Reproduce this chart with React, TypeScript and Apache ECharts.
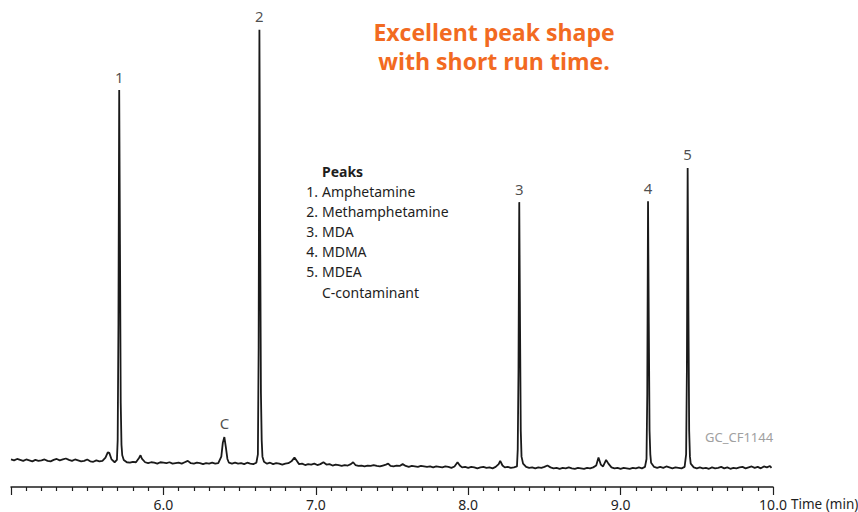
import React, { useEffect, useRef } from "react";
import * as echarts from "echarts";

// Chromatogram trace: [time (min), detector response (relative units)]
const trace: [number, number][] = [
  [5.00, 5.9], [5.02, 5.7], [5.04, 6.0], [5.06, 5.8], [5.08, 5.6], [5.10, 5.9],
  [5.12, 5.7], [5.14, 5.5], [5.16, 5.8], [5.18, 5.6], [5.20, 5.7], [5.22, 5.9],
  [5.24, 5.6], [5.26, 5.5], [5.28, 5.8], [5.30, 6.0], [5.32, 5.7], [5.34, 5.9],
  [5.36, 6.1], [5.38, 5.8], [5.40, 5.6], [5.42, 5.9], [5.44, 5.7], [5.46, 5.5],
  [5.48, 5.6], [5.50, 5.9], [5.52, 5.5], [5.54, 5.4], [5.56, 5.7], [5.58, 5.5],
  [5.60, 5.6], [5.62, 6.3], [5.635, 7.4], [5.645, 7.3], [5.66, 5.9], [5.68, 5.3],
  [5.695, 5.8], [5.70, 10], [5.705, 35], [5.71, 85], [5.715, 52], [5.72, 18],
  [5.725, 9], [5.73, 6.8], [5.74, 5.8], [5.76, 5.3], [5.78, 5.2], [5.80, 5.4],
  [5.82, 5.3], [5.84, 6.2], [5.85, 6.8], [5.86, 6.0], [5.88, 5.3], [5.90, 5.1],
  [5.92, 5.3], [5.94, 5.2], [5.96, 5.0], [5.98, 5.3], [6.00, 5.2], [6.02, 5.1],
  [6.04, 5.3], [6.06, 5.0], [6.08, 5.1], [6.10, 5.2], [6.12, 5.0], [6.14, 5.3],
  [6.16, 5.6], [6.18, 5.1], [6.20, 5.0], [6.22, 5.2], [6.24, 5.1], [6.26, 4.9],
  [6.28, 5.1], [6.30, 5.0], [6.32, 5.2], [6.34, 5.0], [6.36, 5.1], [6.38, 6.5],
  [6.39, 9.5], [6.40, 10.7], [6.41, 8.5], [6.42, 6.0], [6.43, 5.2], [6.45, 5.0],
  [6.47, 5.2], [6.49, 5.0], [6.51, 5.1], [6.53, 4.9], [6.55, 5.2], [6.57, 5.0],
  [6.59, 4.9], [6.61, 5.2], [6.62, 7], [6.625, 30], [6.63, 97.9], [6.635, 55],
  [6.64, 20], [6.645, 10], [6.65, 6.5], [6.66, 5.4], [6.68, 5.0], [6.70, 5.2],
  [6.72, 4.9], [6.74, 5.1], [6.76, 5.0], [6.78, 4.8], [6.80, 5.0], [6.82, 5.1],
  [6.84, 5.5], [6.86, 6.3], [6.875, 5.6], [6.89, 4.9], [6.91, 5.0], [6.93, 4.7],
  [6.95, 4.9], [6.97, 4.8], [6.99, 5.0], [7.01, 4.7], [7.03, 4.9], [7.05, 5.3],
  [7.07, 4.8], [7.09, 4.9], [7.11, 4.6], [7.13, 4.8], [7.15, 4.7], [7.17, 4.5],
  [7.19, 4.7], [7.21, 4.6], [7.23, 4.9], [7.245, 5.3], [7.26, 4.7], [7.28, 4.5],
  [7.30, 4.6], [7.32, 4.4], [7.34, 4.6], [7.36, 4.5], [7.38, 4.7], [7.40, 4.5],
  [7.42, 4.4], [7.44, 4.6], [7.46, 4.8], [7.475, 5.0], [7.49, 4.5], [7.51, 4.4],
  [7.53, 4.6], [7.55, 4.5], [7.57, 4.9], [7.59, 4.5], [7.61, 4.3], [7.63, 4.5],
  [7.65, 4.4], [7.67, 4.3], [7.69, 4.5], [7.71, 4.4], [7.73, 4.3], [7.75, 4.4],
  [7.77, 4.2], [7.79, 4.4], [7.81, 4.3], [7.83, 4.2], [7.85, 4.4], [7.87, 4.3],
  [7.89, 4.1], [7.91, 4.4], [7.93, 5.3], [7.945, 4.6], [7.96, 4.2], [7.98, 4.3],
  [8.00, 4.1], [8.02, 4.3], [8.04, 4.2], [8.06, 4.0], [8.08, 4.2], [8.10, 4.3],
  [8.12, 4.1], [8.14, 4.2], [8.16, 4.0], [8.18, 4.3], [8.20, 4.9], [8.21, 5.6],
  [8.225, 4.6], [8.24, 4.2], [8.26, 4.3], [8.28, 4.1], [8.30, 4.2], [8.32, 4.4],
  [8.325, 8], [8.33, 25], [8.335, 61.0], [8.34, 35], [8.345, 12], [8.35, 6.5],
  [8.36, 5.0], [8.38, 4.3], [8.40, 4.1], [8.42, 4.2], [8.44, 4.0], [8.46, 4.2],
  [8.48, 4.1], [8.50, 4.3], [8.52, 4.6], [8.54, 4.2], [8.56, 4.0], [8.58, 4.1],
  [8.60, 3.9], [8.62, 4.1], [8.64, 4.0], [8.66, 4.2], [8.68, 4.0], [8.70, 3.9],
  [8.72, 4.1], [8.74, 4.0], [8.76, 3.9], [8.78, 4.1], [8.80, 4.0], [8.82, 4.2],
  [8.84, 4.6], [8.855, 6.3], [8.87, 4.8], [8.885, 4.4], [8.905, 5.8], [8.92, 5.0],
  [8.94, 4.2], [8.96, 4.0], [8.98, 4.1], [9.00, 3.9], [9.02, 4.1], [9.04, 4.0],
  [9.06, 3.9], [9.08, 4.1], [9.10, 4.0], [9.12, 4.2], [9.14, 4.0], [9.16, 4.3],
  [9.17, 6], [9.175, 20], [9.18, 61.2], [9.185, 35], [9.19, 12], [9.195, 7],
  [9.20, 5.2], [9.22, 4.3], [9.24, 4.1], [9.26, 4.3], [9.28, 4.1], [9.30, 4.4],
  [9.32, 4.2], [9.34, 4.0], [9.36, 4.2], [9.38, 4.1], [9.40, 4.0], [9.42, 4.3],
  [9.43, 7], [9.435, 25], [9.44, 68.3], [9.445, 38], [9.45, 12], [9.455, 6.5],
  [9.46, 5.0], [9.48, 4.2], [9.50, 4.0], [9.52, 4.2], [9.54, 4.0], [9.56, 4.1],
  [9.58, 3.9], [9.60, 4.2], [9.62, 4.0], [9.64, 4.1], [9.66, 4.3], [9.68, 4.0],
  [9.70, 4.2], [9.72, 3.9], [9.74, 4.1], [9.76, 4.0], [9.78, 4.2], [9.80, 4.3],
  [9.82, 4.0], [9.84, 4.2], [9.86, 4.4], [9.88, 4.1], [9.90, 4.3], [9.92, 4.0],
  [9.94, 4.4], [9.96, 4.2], [9.98, 4.5], [9.99, 4.1],
];

// Peak annotations
const peakLabels = ["1", "C", "2", "3", "4", "5"];
const peakTimes = [5.71, 6.40, 6.63, 8.335, 9.18, 9.44];
const peakHeights = [85, 10.7, 97.9, 61.0, 61.2, 68.3];

// Legend box text
const legendTitle = "Peaks";
const legendNumbers = ["1.", "2.", "3.", "4.", "5.", ""];
const legendNames = ["Amphetamine", "Methamphetamine", "MDA", "MDMA", "MDEA", "C-contaminant"];

const headline = ["Excellent peak shape", "with short run time."];
const watermark = "GC_CF1144";
const xAxisName = "Time (min)";
const xMin = 5;
const xMax = 10;

const FONT = "'Noto Sans', sans-serif";
const INK = "#1e1e1e";

export default function App() {
  const ref = useRef<HTMLDivElement>(null);

  useEffect(() => {
    if (!ref.current) return;
    const chart = echarts.init(ref.current, null, { renderer: "svg" });

    const legendGraphics: any[] = [
      {
        type: "text",
        left: 322,
        top: 164,
        style: { text: legendTitle, font: `bold 14px ${FONT}`, fill: INK },
      },
    ];
    legendNames.forEach((name, i) => {
      const y = 184 + i * 20.2;
      if (legendNumbers[i]) {
        legendGraphics.push({
          type: "text",
          x: 318,
          y,
          style: { text: legendNumbers[i], font: `14px ${FONT}`, fill: INK, align: "right" },
        });
      }
      legendGraphics.push({
        type: "text",
        x: 322,
        y,
        style: { text: name, font: `14px ${FONT}`, fill: INK },
      });
    });

    chart.setOption({
      animation: false,
      backgroundColor: "#ffffff",
      grid: { left: 11, right: 85, top: 20, bottom: 25, outerBoundsMode: "none", containLabel: false },
      xAxis: {
        type: "value",
        min: xMin,
        max: xMax,
        interval: 1,
        axisLine: { show: true, lineStyle: { color: INK, width: 1.5 } },
        axisTick: { show: true, length: 8, inside: false, lineStyle: { color: INK, width: 1.2 } },
        minorTick: { show: true, splitNumber: 10, length: 4, lineStyle: { color: INK, width: 1.2 } },
        splitLine: { show: false },
        axisLabel: {
          margin: 10,
          color: INK,
          fontSize: 14,
          fontFamily: FONT,
          formatter: (v: number) => (v === xMin ? "" : v.toFixed(1)),
        },
      },
      yAxis: {
        type: "value",
        min: 0,
        max: 100,
        show: false,
        splitLine: { show: false },
      },
      graphic: [
        {
          type: "text",
          x: 494,
          y: 17,
          style: {
            text: headline.join("\n"),
            font: `bold 23px 'Open Sans', sans-serif`,
            fill: "#F26A21",
            align: "center",
            lineHeight: 29,
          },
        },
        ...legendGraphics,
        {
          type: "text",
          x: 705,
          y: 430,
          style: { text: watermark, font: `13px ${FONT}`, fill: "#a0a0a0" },
        },
        {
          type: "text",
          x: 791,
          y: 497,
          style: { text: xAxisName, font: `13.5px ${FONT}`, fill: INK },
        },
      ],
      series: [
        {
          type: "line",
          data: trace,
          showSymbol: false,
          symbol: "none",
          smooth: false,
          lineStyle: { color: "#1a1a1a", width: 1.8 },
          z: 2,
        },
        {
          type: "scatter",
          data: peakTimes.map((t, i) => [t, peakHeights[i]]),
          symbolSize: 0.1,
          itemStyle: { color: "transparent" },
          label: {
            show: true,
            position: "top",
            distance: 6,
            color: INK,
            fontSize: 15,
            fontFamily: FONT,
            formatter: (p: any) => peakLabels[p.dataIndex],
          },
          z: 3,
        },
      ],
    });

    return () => chart.dispose();
  }, []);

  return (
    <div
      ref={ref}
      style={{ position: "fixed", left: 0, top: 0, width: 858, height: 512, background: "#fff" }}
    />
  );
}
